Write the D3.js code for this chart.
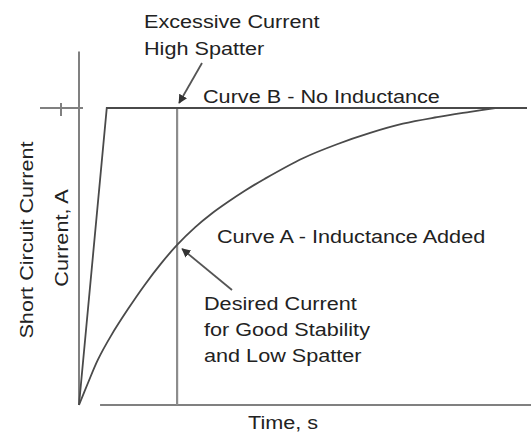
<!DOCTYPE html>
<html lang="en">
<head>
	<meta charset="UTF-8"/>
	<title>Short circuit current vs time</title>
	<script src="https://d3js.org/d3.v7.min.js"></script>
	<style>
		body { margin: 0; background: #fff; }
		text {
			font-family: "Liberation Sans", Arial, Helvetica, sans-serif;
			font-size: 18.5px;
			fill: #222;
		}
		.axis { stroke: #808080; stroke-width: 2; fill: none; }
		.curve { stroke: #4a4a4a; stroke-width: 1.8; fill: none; }
		.marker { stroke: #8c8c8c; stroke-width: 2.2; }
		.pointer { stroke: #555; stroke-width: 1.8; }
	</style>
</head>
<body>
	<div id="chart"></div>

	<script>
	var w = 531;
	var h = 433;

	// time (arbitrary units 0-100) and current (fraction of full short circuit current)
	var curveATime    = [0, 2.0, 4.2, 7.1, 10.9, 14.7, 18.3, 21.9, 25.9, 29.5, 33.3, 37.1, 41.5, 50.0, 57.6, 65.0, 72.3, 79.9, 87.3, 92.9];
	var curveACurrent = [0, 0.074, 0.152, 0.232, 0.322, 0.405, 0.476, 0.539, 0.598, 0.643, 0.684, 0.722, 0.762, 0.831, 0.878, 0.916, 0.947, 0.969, 0.987, 1.0];
	var curveBTime    = [0, 6.2, 100];
	var curveBCurrent = [0, 1.0, 1.0];
	var desiredTime   = 21.9;
	var yTickValues   = [1.0];

	var labelsExcessive = ["Excessive Current", "High Spatter"];
	var labelsDesired   = ["Desired Current", "for Good Stability", "and Low Spatter"];
	var labelCurveA = "Curve A - Inductance Added";
	var labelCurveB = "Curve B - No Inductance";
	var yTitle = ["Short Circuit Current", "Current, A"];
	var xTitle = "Time, s";

	var xScale = d3.scaleLinear().domain([0, 100]).range([79, 527]);
	var yScale = d3.scaleLinear().domain([0, 1]).range([405, 108]);

	var svg = d3.select("#chart")
				.append("svg")
				.attr("width", w)
				.attr("height", h);

	var defs = svg.append("defs");
	defs.append("marker")
		.attr("id", "arrow")
		.attr("viewBox", "0 0 10 10")
		.attr("refX", 9)
		.attr("refY", 5)
		.attr("markerWidth", 5)
		.attr("markerHeight", 5)
		.attr("orient", "auto")
		.append("path")
		.attr("d", "M0,0L10,5L0,10z")
		.attr("fill", "#333");

	// axes
	svg.append("line")
		.attr("class", "axis")
		.attr("x1", xScale(0)).attr("x2", xScale(0))
		.attr("y1", yScale(1.19)).attr("y2", yScale(0));

	svg.append("line")
		.attr("class", "axis")
		.attr("x1", xScale(4.7)).attr("x2", w)
		.attr("y1", yScale(0)).attr("y2", yScale(0));

	// y tick at full current
	yTickValues.forEach(function(v){
		svg.append("line")
			.attr("class", "axis")
			.attr("x1", 40).attr("x2", xScale(0) + 4)
			.attr("y1", yScale(v)).attr("y2", yScale(v));
		svg.append("line")
			.attr("class", "axis")
			.attr("x1", 61).attr("x2", 61)
			.attr("y1", yScale(v) - 5).attr("y2", yScale(v) + 8);
	});

	// desired current marker line
	svg.append("line")
		.attr("class", "marker")
		.attr("x1", xScale(desiredTime)).attr("x2", xScale(desiredTime))
		.attr("y1", yScale(1)).attr("y2", yScale(0));

	var line = d3.line()
				.x(function(d){return xScale(d[0]);})
				.y(function(d){return yScale(d[1]);});

	var curveA = d3.zip(curveATime, curveACurrent);
	var curveB = d3.zip(curveBTime, curveBCurrent);

	svg.append("path")
		.datum(curveB)
		.attr("class", "curve")
		.attr("d", line);

	svg.append("path")
		.datum(curveA)
		.attr("class", "curve")
		.attr("d", line.curve(d3.curveCatmullRom));

	// pointers
	svg.append("line")
		.attr("class", "pointer")
		.attr("x1", 202).attr("y1", 63)
		.attr("x2", xScale(desiredTime) + 2).attr("y2", yScale(1) - 5)
		.attr("marker-end", "url(#arrow)");

	svg.append("line")
		.attr("class", "pointer")
		.attr("x1", 232).attr("y1", 290)
		.attr("x2", xScale(desiredTime) + 5).attr("y2", yScale(0.539) + 4)
		.attr("marker-end", "url(#arrow)");

	// text, drawn slightly wide like the original lettering
	function label(str, x, y, rot){
		svg.append("text")
			.attr("transform", "translate(" + x + "," + y + ")" + (rot ? " rotate(-90)" : "") + " scale(1.17,1)")
			.attr("text-anchor", rot ? "middle" : "start")
			.text(str);
	}

	labelsExcessive.forEach(function(s, i){ label(s, 144, 28 + i * 27); });
	label(labelCurveB, 203, 103);
	label(labelCurveA, 217, 243);
	labelsDesired.forEach(function(s, i){ label(s, 204, 310 + i * 26); });
	label(yTitle[0], 33, 240, true);
	label(yTitle[1], 68, 238, true);
	label(xTitle, 248, 429);
	</script>
</body>
</html>
